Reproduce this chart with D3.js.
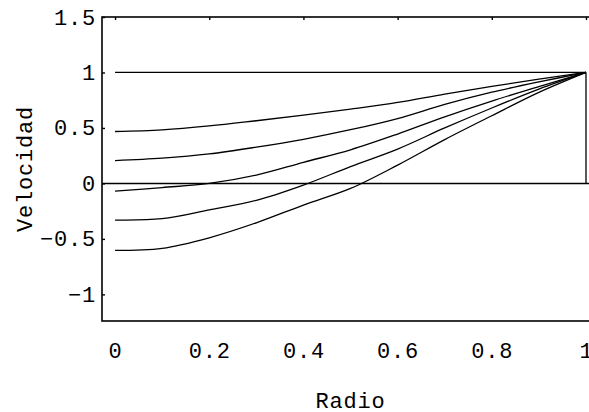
<!DOCTYPE html>
<html>
<head>
<meta charset="utf-8">
<script src="https://cdn.jsdelivr.net/npm/d3@7"></script>
<style>
  body { margin: 0; background: #fff; }
  svg text { font-family: "Liberation Mono", "Courier New", monospace; fill: #000; letter-spacing: 0.8px; }
</style>
</head>
<body>
<svg width="589" height="412"></svg>
<script>
// radio (x) muestreado
const radio = [0, 0.1, 0.2, 0.3, 0.4, 0.5, 0.6, 0.7, 0.8, 0.9, 1];

// perfiles de velocidad
const perfil1 = [1, 1, 1, 1, 1, 1, 1, 1, 1, 1, 1];
const perfil2 = [0.468, 0.483, 0.518, 0.565, 0.615, 0.67, 0.73, 0.805, 0.875, 0.94, 1];
const perfil3 = [0.206, 0.228, 0.266, 0.327, 0.398, 0.484, 0.585, 0.712, 0.822, 0.915, 1];
const perfil4 = [-0.07, -0.037, 0.0, 0.075, 0.19, 0.303, 0.445, 0.6, 0.742, 0.872, 1];
const perfil5 = [-0.33, -0.318, -0.238, -0.152, -0.015, 0.152, 0.31, 0.5, 0.68, 0.85, 1];
const perfil6 = [-0.604, -0.585, -0.49, -0.355, -0.195, -0.045, 0.165, 0.395, 0.61, 0.82, 1];
const perfiles = [perfil1, perfil2, perfil3, perfil4, perfil5, perfil6];

const xTicks = [0, 0.2, 0.4, 0.6, 0.8, 1];
const yTicks = [-1, -0.5, 0, 0.5, 1, 1.5];

const svg = d3.select("svg");

// escalas
const x = d3.scaleLinear().domain([-0.0277, 1.0085]).range([102, 590]);
const y = d3.scaleLinear().domain([-1.24, 1.5]).range([321, 17]);

const fmt = d => d3.format("")(d);

// marco (lado derecho fuera de la imagen)
svg.append("rect")
    .attr("x", x.range()[0])
    .attr("y", y.range()[1])
    .attr("width", x.range()[1] - x.range()[0])
    .attr("height", y.range()[0] - y.range()[1])
    .attr("fill", "none")
    .attr("stroke", "#000")
    .attr("stroke-width", 1.6);

// ticks arriba
svg.append("g")
    .attr("transform", `translate(0,${y.range()[1]})`)
    .call(d3.axisTop(x).tickValues(xTicks).tickSizeInner(-3).tickSizeOuter(0).tickFormat(""))
    .call(g => g.select(".domain").remove());

// etiquetas abajo
svg.append("g")
    .attr("transform", `translate(0,${y.range()[0]})`)
    .call(d3.axisBottom(x).tickValues(xTicks).tickSize(0).tickPadding(21).tickFormat(fmt))
    .call(g => g.select(".domain").remove())
    .call(g => g.selectAll("text").attr("font-size", 22));

// eje izquierdo
svg.append("g")
    .attr("transform", `translate(${x.range()[0]},0)`)
    .call(d3.axisLeft(y).tickValues(yTicks).tickSizeInner(-3).tickSizeOuter(0).tickPadding(6).tickFormat(fmt))
    .call(g => g.select(".domain").remove())
    .call(g => g.selectAll("text").attr("font-size", 22));

svg.selectAll(".tick line").attr("stroke", "#000").attr("stroke-width", 1.4);
svg.selectAll("g").attr("font-family", null);

// linea del cero
svg.append("line")
    .attr("x1", x.range()[0]).attr("x2", x.range()[1])
    .attr("y1", y(0)).attr("y2", y(0))
    .attr("stroke", "#000")
    .attr("stroke-width", 1.5);

// pared en r = 1
svg.append("line")
    .attr("x1", x(1)).attr("x2", x(1))
    .attr("y1", y(0)).attr("y2", y(1))
    .attr("stroke", "#000")
    .attr("stroke-width", 1.3);

const line = d3.line()
    .x((d, i) => x(radio[i]))
    .y(d => y(d))
    .curve(d3.curveCatmullRom);

svg.append("g")
    .selectAll("path")
    .data(perfiles)
    .join("path")
    .attr("d", line)
    .attr("fill", "none")
    .attr("stroke", "#000")
    .attr("stroke-width", 1.3);

// titulos de ejes
svg.append("text")
    .attr("x", x(0.5))
    .attr("y", 408)
    .attr("text-anchor", "middle")
    .attr("font-size", 22)
    .text("Radio");

svg.append("text")
    .attr("transform", `translate(32,${(y.range()[0] + y.range()[1]) / 2}) rotate(-90)`)
    .attr("text-anchor", "middle")
    .attr("font-size", 22)
    .text("Velocidad");
</script>
</body>
</html>
